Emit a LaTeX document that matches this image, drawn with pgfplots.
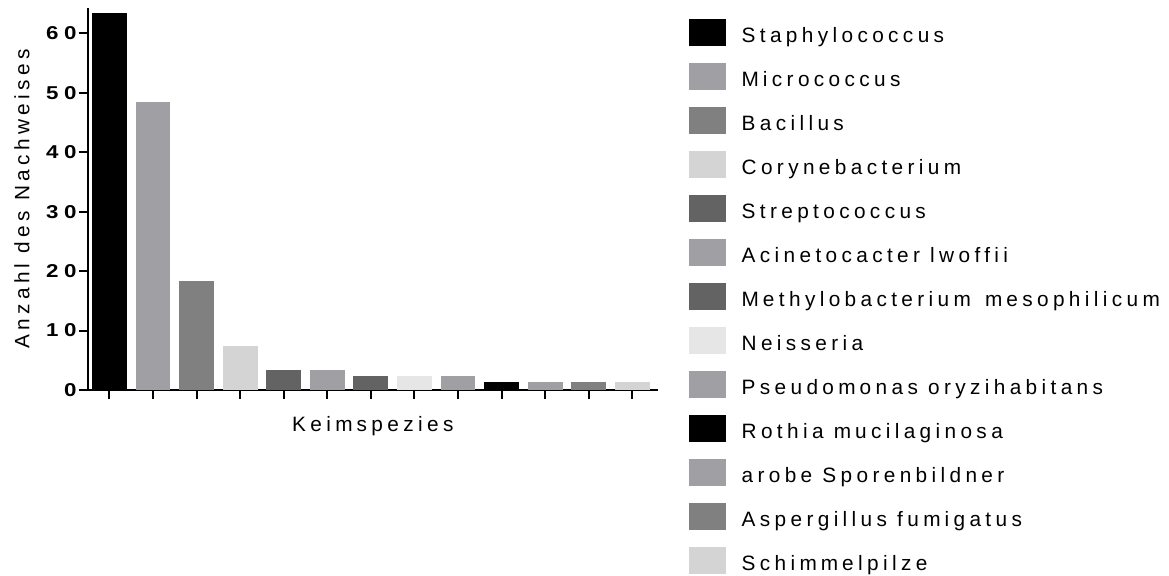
\documentclass[border=0pt]{standalone}
\usepackage{pgfplots}
\pgfplotsset{compat=1.18}
\usepackage{fontspec}
\setmainfont{Liberation Sans}
\newfontfamily\chartfont[LetterSpace=21]{Liberation Sans}
\newfontfamily\tickfont[LetterSpace=30, FakeStretch=1.2]{Liberation Sans Bold}

\definecolor{cBlack}{RGB}{0,0,0}
\definecolor{cMid}{RGB}{160,160,164}
\definecolor{cGray}{RGB}{128,128,128}
\definecolor{cLight}{RGB}{212,212,212}
\definecolor{cDark}{RGB}{99,99,99}
\definecolor{cPale}{RGB}{230,230,230}

\newcommand\labelfont{\chartfont\fontsize{10.4}{12}\selectfont}
\newcommand\numfont{\tickfont\fontsize{9.3}{11}\selectfont}
% wider spacing after the letter m, as in the exported labels
\newcommand\mm{m\kern2pt}
\newcommand\MM{M\kern2pt}

\pgfplotsset{
  swatch/.style={legend image code/.code={\fill[##1] (0pt,-1.7pt) rectangle (18.5pt,11.65pt);}},
}

\begin{document}
\begin{tikzpicture}
\begin{axis}[
  at={(44pt,93pt)}, anchor=south west,
  scale only axis,
  width=284.85pt, height=190.85pt,
  ybar, bar width=0.8, bar shift=0pt,
  xmin=-0.49, xmax=12.58,
  ymin=0, ymax=64.2,
  axis x line=bottom, axis y line=left,
  axis line style={-, line width=1.1pt},
  tick align=outside,
  major tick length=4.5pt,
  every tick/.style={black, line width=1pt},
  xtick={0,1,...,12}, xticklabels={},
  ytick={0,10,...,60},
  /pgf/number format/assume math mode=true,
  yticklabel style={font=\numfont, anchor=east, inner sep=0pt, xshift=-1pt},
  xlabel={Kei\mm spezies},
  ylabel={Anzahl des Nachweises},
  label style={font=\labelfont},
  xlabel style={at={(axis description cs:0.5,-0.10925)}, anchor=base},
  ylabel style={at={(axis description cs:-0.10304,0.5)}, rotate=0, anchor=base},
  legend cell align=left,
  legend style={
    at={(1.0549,0.97381)}, anchor=north west,
    draw=none, fill=none, inner sep=0pt, outer sep=0pt,
    row sep=0pt, column sep=7.85pt,
    font=\labelfont,
    nodes={text height=12pt, text depth=10pt, inner xsep=0pt, inner ysep=0pt, anchor=base west},
  },
]
\addplot[fill=cBlack, draw=none, swatch] coordinates {(0,63.4)};
\addlegendentry{Staphylococcus}
\addplot[fill=cMid, draw=none, swatch] coordinates {(1,48.4)};
\addlegendentry{\MM icrococcus}
\addplot[fill=cGray, draw=none, swatch] coordinates {(2,18.4)};
\addlegendentry{Bacillus}
\addplot[fill=cLight, draw=none, swatch] coordinates {(3,7.4)};
\addlegendentry{Corynebacterium}
\addplot[fill=cDark, draw=none, swatch] coordinates {(4,3.4)};
\addlegendentry{Streptococcus}
\addplot[fill=cMid, draw=none, swatch] coordinates {(5,3.4)};
\addlegendentry{Acinetocacter lwoffii}
\addplot[fill=cDark, draw=none, swatch] coordinates {(6,2.4)};
\addlegendentry{\MM ethylobacteriu\mm\ \mm esophilicum}
\addplot[fill=cPale, draw=none, swatch] coordinates {(7,2.4)};
\addlegendentry{Neisseria}
\addplot[fill=cMid, draw=none, swatch] coordinates {(8,2.4)};
\addlegendentry{Pseudo\mm onas oryzihabitans}
\addplot[fill=cBlack, draw=none, swatch] coordinates {(9,1.4)};
\addlegendentry{Rothia \mm ucilaginosa}
\addplot[fill=cMid, draw=none, swatch] coordinates {(10,1.4)};
\addlegendentry{arobe Sporenbildner}
\addplot[fill=cGray, draw=none, swatch] coordinates {(11,1.4)};
\addlegendentry{Aspergillus fu\mm igatus}
\addplot[fill=cLight, draw=none, swatch] coordinates {(12,1.4)};
\addlegendentry{Schi\mm \mm elpilze}
\end{axis}
\pgfresetboundingbox
\path[use as bounding box] (0pt,0pt) rectangle (584.5pt,288pt);
\end{tikzpicture}
\end{document}
